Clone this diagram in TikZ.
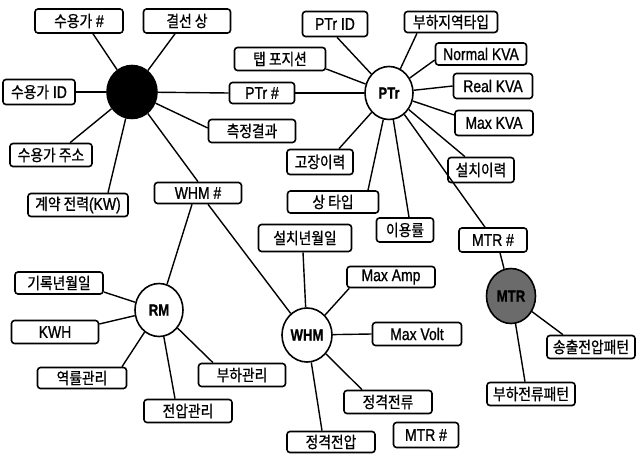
\documentclass[tikz,border=0pt]{standalone}
\usepackage{fontspec}
\setmainfont[FakeStretch=0.82,FakeBold=0.9]{Liberation Sans}
\newfontfamily\krfont[FakeStretch=0.86,FakeBold=0.9]{Noto Sans CJK KR}
\newcommand{\hg}[1]{{\krfont\fontsize{16}{18}\selectfont #1}}
\usetikzlibrary{shapes.geometric}
\begin{document}
\begin{tikzpicture}[x=1pt,y=-1pt,
  font=\fontsize{17}{19}\selectfont,
  box/.style 2 args={draw, fill=white, rounded corners=3pt, line width=1.6pt,
    inner sep=0pt, minimum width=#1pt, minimum height=#2pt, align=center},
  hub/.style 2 args={draw, ellipse, fill=white, line width=1.6pt, inner sep=0pt,
    minimum width=#1pt, minimum height=#2pt, font=\fontsize{16}{18}\selectfont\bfseries},
  link/.style={line width=1.4pt}]
\useasboundingbox (0,0) rectangle (636,454);

% hubs
\node[hub={50}{53}, fill=black] (cu) at (132,92) {};
\node[hub={48}{53}] (pt) at (389,93) {PTr};
\node[hub={48}{53}] (rm) at (159,310) {RM};
\node[hub={50}{54}] (wh) at (307,335) {WHM};
\node[hub={49}{55}, fill=black!58] (mt) at (511,296) {MTR};

% customer attributes
\node[box={88}{24}] (c1) at (79,21) {\hg{수용가} \#};
\node[box={87}{24}] (c2) at (187,21) {\hg{결선 상}};
\node[box={72}{25}] (c3) at (39,92) {\hg{수용가} ID};
\node[box={65}{21}] (p0) at (262,93) {PTr \#};
\node[box={87}{23}] (c5) at (252,131) {\hg{측정결과}};
\node[box={82}{23}] (c6) at (51,155) {\hg{수용가 주소}};
\node[box={100}{23}] (c7) at (78,205) {\hg{계약 전력}(KW)};
\node[box={87}{21}] (w0) at (198,193) {WHM \#};

% transformer attributes
\node[box={65}{25}] (p1) at (335,24) {PTr ID};
\node[box={93}{21}] (p2) at (451,22) {\hg{부하지역타입}};
\node[box={91}{22}] (p3) at (481,54) {Normal KVA};
\node[box={79}{25}] (p4) at (493,86) {Real KVA};
\node[box={78}{25}] (p5) at (494,123) {Max KVA};
\node[box={91}{23}] (p6) at (280,59) {\hg{탭 포지션}};
\node[box={66}{25}] (p7) at (320,162) {\hg{고장이력}};
\node[box={66}{25}] (p8) at (481,170) {\hg{설치이력}};
\node[box={91}{22}] (p9) at (333,202) {\hg{상 타입}};
\node[box={57}{24}] (p10) at (405,230) {\hg{이용률}};
\node[box={68}{24}] (m0) at (493,240) {MTR \#};

% meter attributes
\node[box={93}{27}] (h1) at (305,238) {\hg{설치년월일}};
\node[box={88}{21}] (h2) at (391,277) {Max Amp};
\node[box={89}{23}] (h3) at (417,334) {Max Volt};
\node[box={88}{23}] (h4) at (388,402) {\hg{정격전류}};
\node[box={88}{21}] (h5) at (331,442) {\hg{정격전압}};
\node[box={65}{25}] (h6) at (426,435) {MTR \#};

% MTR attributes
\node[box={88}{23}] (m1) at (591,347) {\hg{송출전압패턴}};
\node[box={88}{23}] (m2) at (531,394) {\hg{부하전류패턴}};

% RM attributes
\node[box={88}{22}] (r1) at (59,283) {\hg{기록년월일}};
\node[box={87}{23}] (r2) at (55,332) {KWH};
\node[box={89}{21}] (r3) at (82,378) {\hg{역률관리}};
\node[box={87}{23}] (r4) at (242,375) {\hg{부하관리}};
\node[box={88}{23}] (r5) at (188,411) {\hg{전압관리}};

% connectors
\begin{scope}[link]
\draw (cu) -- ([xshift=14pt]c1.south);
\draw (cu) -- ([xshift=-12pt]c2.south);
\draw (cu) -- (c3.east);
\draw (cu) -- (p0.west);
\draw (p0.east) -- (pt);
\draw (cu) -- ([yshift=3pt]c5.west);
\draw (cu) -- ([xshift=19pt]c6.north);
\draw (cu) -- ([xshift=30pt]c7.north);
\draw (cu) -- (w0.north);
\draw ([xshift=-6pt]w0.south) -- (rm);
\draw ([xshift=10pt]w0.south) -- (wh);

\draw (pt) -- ([xshift=2pt]p1.south);
\draw (pt) -- ([xshift=-34pt]p2.south);
\draw (pt) -- ([yshift=-6pt]p3.west);
\draw (pt) -- (p4.west);
\draw (pt) -- ([yshift=8pt]p5.west);
\draw (pt) -- ([yshift=-10pt]p6.east);
\draw (pt) -- ([xshift=19pt]p7.north);
\draw (pt) -- ([xshift=35pt]p9.north);
\draw (pt) -- ([xshift=4pt]p10.north);
\draw (pt) -- ([xshift=-16pt]p8.north);
\draw (pt) -- ([xshift=-8pt]m0.north);
\draw ([xshift=7pt]m0.south) -- (mt);
\draw (mt) -- ([xshift=-28pt]m1.north);
\draw (mt) -- ([xshift=-6pt]m2.north);

\draw (wh) -- ([xshift=-2pt]h1.south);
\draw (wh) -- ([xshift=3pt]h2.south west);
\draw (wh) -- (h3.west);
\draw (wh) -- ([xshift=-26pt]h4.north);
\draw (wh) -- ([xshift=-9pt]h5.north);

\draw (rm) -- ([yshift=-9pt]r1.east);
\draw (rm) -- ([yshift=8pt]r2.east);
\draw (rm) -- ([xshift=40pt]r3.north);
\draw (rm) -- ([xshift=-13pt]r5.north);
\draw (rm) -- ([xshift=-29pt]r4.north);
\end{scope}
\end{tikzpicture}
\end{document}
